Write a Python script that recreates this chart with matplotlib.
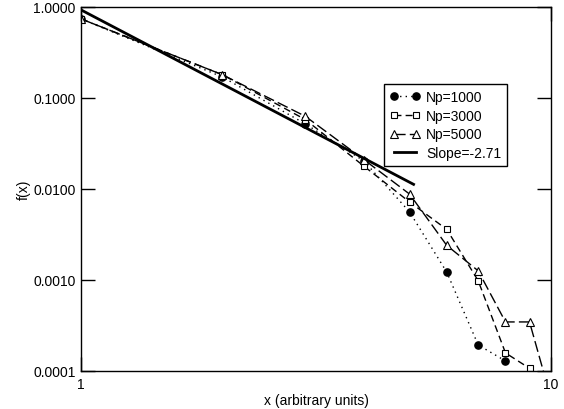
import numpy as np
import matplotlib
matplotlib.use("Agg")
import matplotlib.pyplot as plt
from matplotlib.ticker import FixedLocator, FormatStrFormatter, NullLocator

plt.rcParams['font.family'] = ['Liberation Sans', 'DejaVu Sans']

# ---- data ----
x_1000 = [1, 2, 3, 4, 5, 6, 7, 8]
f_1000 = [0.74, 0.17, 0.052, 0.0203, 0.0056, 0.00122, 0.000193, 0.000129]

x_3000 = [1, 2, 3, 4, 5, 6, 7, 8, 9]
f_3000 = [0.74, 0.18, 0.058, 0.0178, 0.0072, 0.0036, 0.00098, 0.000158, 0.000107]

x_5000 = [1, 2, 3, 4, 5, 6, 7, 8, 9, 10]
f_5000 = [0.74, 0.18, 0.063, 0.021, 0.0088, 0.0024, 0.00126, 0.000346, 0.000346, 0.00005]

slope = -2.71
slope_amp = 0.93
slope_x = [1.0, 5.1]

fig = plt.figure(figsize=(5.64, 4.10), dpi=100)
ax = fig.add_axes([0.1436, 0.0927, 0.8334, 0.8878])

ax.plot(x_1000, f_1000, color='black', linestyle=(0, (1, 3)), linewidth=1,
        marker='o', markersize=5.2, markerfacecolor='black',
        markeredgecolor='black', label='Np=1000')
ax.plot(x_3000, f_3000, color='black', linestyle=(0, (5, 3)), linewidth=1,
        marker='s', markersize=5, markerfacecolor='white',
        markeredgecolor='black', markeredgewidth=0.8, label='Np=3000')
ax.plot(x_5000, f_5000, color='black', linestyle=(0, (8, 3)), linewidth=1,
        marker='^', markersize=6, markerfacecolor='white',
        markeredgecolor='black', markeredgewidth=0.8, label='Np=5000')

xs = np.array(slope_x)
ax.plot(xs, slope_amp * xs ** slope, color='black', linewidth=2,
        label='Slope=-2.71')

ax.set_xscale('log')
ax.set_yscale('log')
ax.set_xlim(1, 10)
ax.set_ylim(1e-4, 1)

ax.xaxis.set_major_locator(FixedLocator([1, 10]))
ax.xaxis.set_major_formatter(FormatStrFormatter('%g'))
ax.xaxis.set_minor_locator(NullLocator())
ax.yaxis.set_major_locator(FixedLocator([1e-4, 1e-3, 1e-2, 1e-1, 1]))
ax.yaxis.set_major_formatter(FormatStrFormatter('%.4f'))
ax.yaxis.set_minor_locator(NullLocator())

ax.tick_params(axis='both', which='major', direction='in', length=10,
               width=1, labelsize=10, pad=4, right=True, top=True)
for sp in ax.spines.values():
    sp.set_linewidth(1)

ax.set_xlabel('x (arbitrary units)', fontsize=10, labelpad=2)
ax.set_ylabel('f(x)', fontsize=10, labelpad=2)

leg = ax.legend(loc='upper left', bbox_to_anchor=(0.645, 0.788),
                fontsize=10, frameon=True, fancybox=False, framealpha=1,
                edgecolor='black', handlelength=2.2, numpoints=2,
                borderpad=0.4, labelspacing=0.35, handletextpad=0.4,
                borderaxespad=0)
leg.get_frame().set_linewidth(1)

fig.savefig('out.png', dpi=100)
